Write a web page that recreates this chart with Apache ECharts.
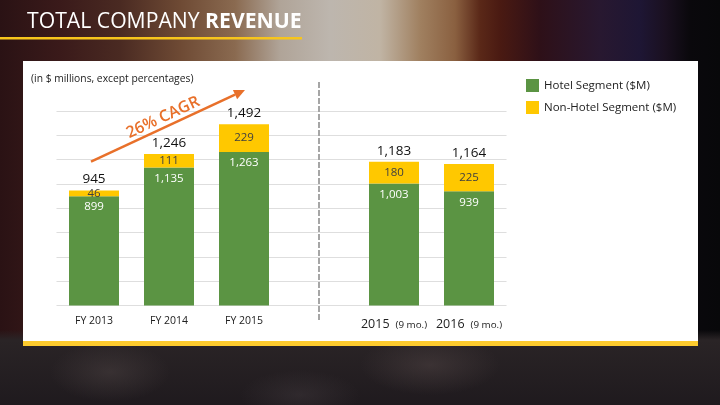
<!DOCTYPE html>
<html>
<head>
<meta charset="utf-8">
<script src="https://cdn.jsdelivr.net/npm/echarts@6/dist/echarts.min.js"></script>
<style>
  html, body { margin: 0; padding: 0; width: 720px; height: 405px; overflow: hidden; }
  body {
    background:
      radial-gradient(ellipse 60px 30px at 110px 372px, rgba(80,70,70,0.45), rgba(80,70,70,0) 100%),
      radial-gradient(ellipse 70px 30px at 430px 365px, rgba(85,72,72,0.45), rgba(85,72,72,0) 100%),
      radial-gradient(ellipse 60px 25px at 300px 395px, rgba(70,62,66,0.4), rgba(70,62,66,0) 100%),
      linear-gradient(to bottom, rgba(0,0,0,0) 0px, rgba(0,0,0,0) 330px, #2a2426 340px, #1f1a1e 405px),
      linear-gradient(to right, #2a1214 0px, #3a1a1a 60px, #4a2a22 120px, #6e4a34 180px, #8a6a50 235px,
        #b0a498 280px, #bdb6ae 330px, #c0b4a4 380px, #a08060 420px, #8a6040 455px, #5a2818 480px,
        #4a1a12 500px, #2e1018 540px, #281830 600px, #1e1634 640px, #1a1020 665px, #0a080c 690px, #08080a 720px);
  }
  #chart { width: 720px; height: 405px; }
</style>
</head>
<body>
<div id="chart"></div>
<script>
// ---- data ----
const categories = ['FY 2013', 'FY 2014', 'FY 2015', '', '2015', '2016'];
const periodNotes = ['', '', '', '', '(9 mo.)', '(9 mo.)'];
const hotelSegment = [899, 1135, 1263, '-', 1003, 939];
const nonHotelSegment = [46, 111, 229, '-', 180, 225];
const totalRevenue = [945, 1246, 1492, '-', 1183, 1164];
const yAxisMin = 0, yAxisMax = 1600, yAxisInterval = 200;
const seriesNames = ['Hotel Segment ($M)', 'Non-Hotel Segment ($M)'];
const titleParts = ['TOTAL COMPANY ', 'REVENUE'];
const subtitleText = '(in $ millions, except percentages)';
const cagrText = '26% CAGR';

const GREEN = '#5b9443';
const YELLOW = '#ffc800';
const ORANGE = '#e8702a';
const FONT = 'Open Sans';

const fmt = v => Number(v).toLocaleString('en-US');

const chart = echarts.init(document.getElementById('chart'), null, { renderer: 'canvas' });

// arrow geometry (annotation)
const ax0 = 91, ay0 = 161.7, ax1 = 245, ay1 = 90;
const dx = ax1 - ax0, dy = ay1 - ay0, len = Math.sqrt(dx * dx + dy * dy);
const ux = dx / len, uy = dy / len, nx = -uy, ny = ux;
const headL = 11, headW = 5;
const bx = ax1 - headL * ux, by = ay1 - headL * uy;

const option = {
  backgroundColor: 'transparent',
  animation: false,
  textStyle: { fontFamily: FONT },
  title: {
    text: '{n|' + titleParts[0] + '}{b|' + titleParts[1] + '}',
    left: 22, top: 6,
    textStyle: {
      rich: {
        n: { fontFamily: FONT, fontSize: 21.2, color: '#ffffff', fontWeight: 'normal' },
        b: { fontFamily: FONT, fontSize: 21.2, color: '#ffffff', fontWeight: 'bold' }
      }
    }
  },
  legend: {
    data: seriesNames,
    orient: 'vertical',
    left: 521, top: 74,
    itemWidth: 13, itemHeight: 13, itemGap: 9,
    icon: 'rect',
    textStyle: { fontFamily: FONT, fontSize: 11.5, color: '#222' }
  },
  grid: { left: 56.5, right: 213.5, top: 111, bottom: 99.5, containLabel: false },
  xAxis: {
    type: 'category',
    data: categories,
    axisLine: { show: false },
    axisTick: { show: false },
    axisLabel: {
      margin: 9,
      interval: 0,
      formatter: (v, i) => periodNotes[i]
        ? '{y|' + v + '}{m|' + periodNotes[i] + '}'
        : '{f|' + v + '}',
      rich: {
        f: { fontFamily: FONT, fontSize: 10.5, color: '#222', lineHeight: 13 },
        y: { fontFamily: FONT, fontSize: 12.5, color: '#222', lineHeight: 20 },
        m: { fontFamily: FONT, fontSize: 9.8, color: '#222', lineHeight: 20, padding: [1, 0, 0, 6] }
      }
    }
  },
  yAxis: {
    type: 'value',
    min: yAxisMin, max: yAxisMax, interval: yAxisInterval,
    axisLabel: { show: false },
    axisLine: { show: false },
    axisTick: { show: false },
    splitLine: { show: true, lineStyle: { color: '#dedede', width: 1.2 } }
  },
  series: [
    {
      name: seriesNames[0], type: 'bar', stack: 'rev', data: hotelSegment,
      barWidth: 50, barGap: '-100%',
      itemStyle: { color: GREEN },
      label: {
        show: true, position: 'insideTop', distance: 5,
        color: '#ffffff', fontFamily: FONT, fontSize: 11.5,
        formatter: p => fmt(p.value)
      }
    },
    {
      name: seriesNames[1], type: 'bar', stack: 'rev', data: nonHotelSegment,
      barWidth: 50, barGap: '-100%',
      itemStyle: { color: YELLOW },
      label: {
        show: true, position: 'inside',
        color: '#404040', fontFamily: FONT, fontSize: 11.5,
        formatter: p => fmt(p.value)
      }
    },
    {
      name: 'Total', type: 'bar', data: totalRevenue,
      barWidth: 50, barGap: '-100%', z: 1,
      itemStyle: { color: 'rgba(0,0,0,0)' },
      label: {
        show: true, position: 'top', distance: 4,
        color: '#111', fontFamily: FONT, fontSize: 13.5,
        formatter: p => fmt(p.value)
      },
      emphasis: { disabled: true }
    }
  ],
  graphic: [
    { type: 'rect', z: -10, shape: { x: 23, y: 61, width: 675, height: 280 }, style: { fill: '#ffffff' } },
    { type: 'rect', z: -10, shape: { x: 23, y: 341, width: 675, height: 5 }, style: { fill: '#fdcb2e' } },
    { type: 'rect', z: -10, shape: { x: 0, y: 37, width: 302, height: 2.5 }, style: { fill: '#f7c51c' } },
    { type: 'text', z: 10, left: 31, top: 74, style: { text: subtitleText, fontFamily: FONT, fontSize: 10.3, fill: '#222' } },
    { type: 'line', z: 10, shape: { x1: ax0, y1: ay0, x2: bx, y2: by }, style: { stroke: ORANGE, lineWidth: 2.5 } },
    { type: 'polygon', z: 10, shape: { points: [[ax1, ay1], [bx + headW * nx, by + headW * ny], [bx - headW * nx, by - headW * ny]] }, style: { fill: ORANGE } },
    { type: 'text', z: 10, x: 163, y: 117.5, rotation: 25 * Math.PI / 180,
      style: { text: cagrText, fontFamily: FONT, fontSize: 16, fontWeight: 600, fill: ORANGE, align: 'center', verticalAlign: 'middle' } }
  ]
};

chart.setOption(option);

// dashed separator at the empty category slot
const sepX = chart.convertToPixel({ xAxisIndex: 0 }, 3);
option.graphic.push({ type: 'line', z: 10, shape: { x1: sepX, y1: 82, x2: sepX, y2: 320 },
  style: { stroke: '#a6a6a6', lineWidth: 2, lineDash: [6, 2] } });
chart.setOption({ graphic: option.graphic });
</script>
</body>
</html>
